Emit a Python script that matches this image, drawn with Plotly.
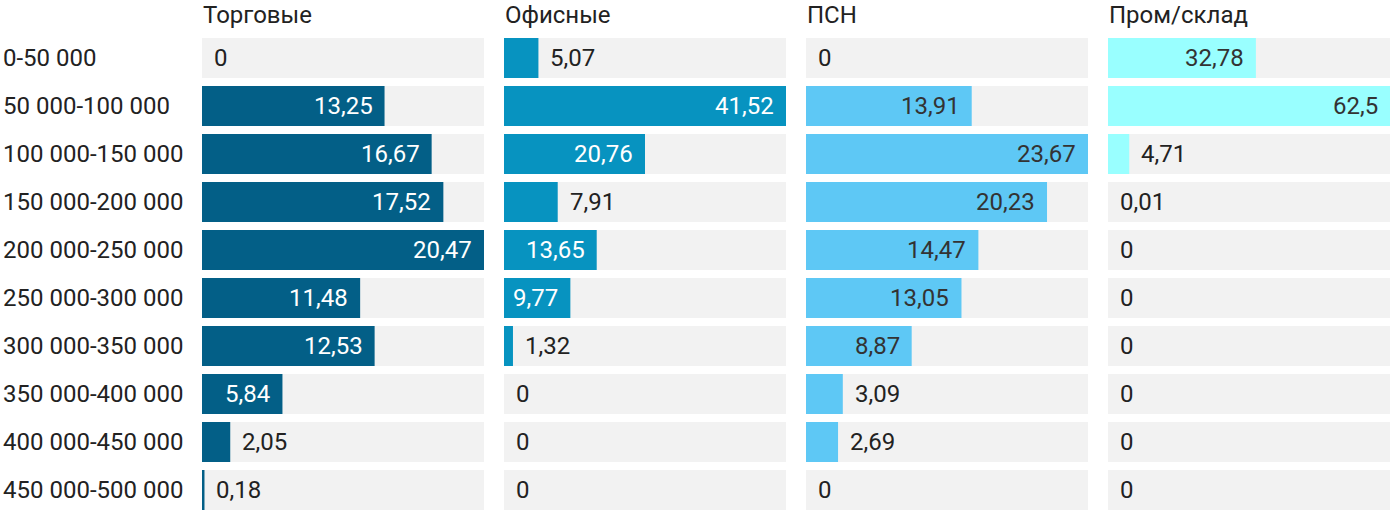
import plotly.graph_objects as go

categories = ["0-50 000", "50 000-100 000", "100 000-150 000", "150 000-200 000",
              "200 000-250 000", "250 000-300 000", "300 000-350 000", "350 000-400 000",
              "400 000-450 000", "450 000-500 000"]
titles = ["Торговые", "Офисные", "ПСН", "Пром/склад"]
trade = [0, 13.25, 16.67, 17.52, 20.47, 11.48, 12.53, 5.84, 2.05, 0.18]
office = [5.07, 41.52, 20.76, 7.91, 13.65, 9.77, 1.32, 0, 0, 0]
psn = [0, 13.91, 23.67, 20.23, 14.47, 13.05, 8.87, 3.09, 2.69, 0]
industrial = [32.78, 62.5, 4.71, 0.01, 0, 0, 0, 0, 0, 0]
series = [trade, office, psn, industrial]

colors = ["#035f87", "#0793c0", "#5ec8f5", "#99ffff"]
inside_text_colors = ["#ffffff", "#ffffff", "#333333", "#333333"]
outside_color = "#222222"
bg_color = "#f2f2f2"
FONT = "Roboto"
FS = 24

W, H = 1400, 526
panel_w = 282
panel_lefts = [202, 504, 806, 1108]
row_top, row_bottom = 34, 514

def fmt(v):
    return ("%g" % v).replace(".", ",")

fig = go.Figure()
annotations = []
for i, vals in enumerate(series):
    ax = "x" if i == 0 else "x%d" % (i + 1)
    vmax = max(vals)
    fig.add_trace(go.Bar(x=[vmax] * len(categories), y=categories, orientation="h",
                         marker=dict(color=bg_color, line=dict(width=0)),
                         xaxis=ax, yaxis="y", hoverinfo="skip", showlegend=False))
    bar_colors = [colors[i] if v / vmax * panel_w >= 0.5 else "rgba(0,0,0,0)" for v in vals]
    fig.add_trace(go.Bar(x=vals, y=categories, orientation="h",
                         marker=dict(color=bar_colors, line=dict(width=0)),
                         xaxis=ax, yaxis="y", showlegend=False, name=titles[i]))
    for c, v in zip(categories, vals):
        px = v / vmax * panel_w
        inside = px > 60
        annotations.append(dict(
            x=v, y=c, xref=ax, yref="y", text=fmt(v), showarrow=False,
            xanchor="right" if inside else "left",
            xshift=-10 if inside else 10,
            font=dict(family=FONT, size=FS,
                      color=inside_text_colors[i] if inside else outside_color)))
    annotations.append(dict(
        x=panel_lefts[i] / W, y=1 - 15 / H, xref="paper", yref="paper",
        text=titles[i], showarrow=False, xanchor="left", yanchor="middle", xshift=-1,
        font=dict(family=FONT, size=FS, color=outside_color)))

for c in categories:
    annotations.append(dict(
        x=0, y=c, xref="paper", yref="y", text=c, showarrow=False,
        xanchor="left", yanchor="middle", xshift=1,
        font=dict(family=FONT, size=FS, color=outside_color)))

layout = dict(
    width=W, height=H, margin=dict(l=0, r=0, t=0, b=0),
    paper_bgcolor="white", plot_bgcolor="white",
    barmode="overlay", bargap=8 / 48,
    font=dict(family=FONT, size=FS, color=outside_color),
    annotations=annotations,
    yaxis=dict(type="category", categoryarray=categories, autorange="reversed",
               domain=[1 - row_bottom / H, 1 - row_top / H],
               showticklabels=False, showgrid=False, zeroline=False, showline=False,
               fixedrange=True),
)
for i, vals in enumerate(series):
    key = "xaxis" if i == 0 else "xaxis%d" % (i + 1)
    layout[key] = dict(domain=[panel_lefts[i] / W, (panel_lefts[i] + panel_w) / W],
                       range=[0, max(vals)], visible=False, anchor="y", fixedrange=True)
fig.update_layout(**layout)
fig.write_html("out.html", config={"displayModeBar": False},
               post_script="document.body.style.margin='0';document.body.style.padding='0';")
